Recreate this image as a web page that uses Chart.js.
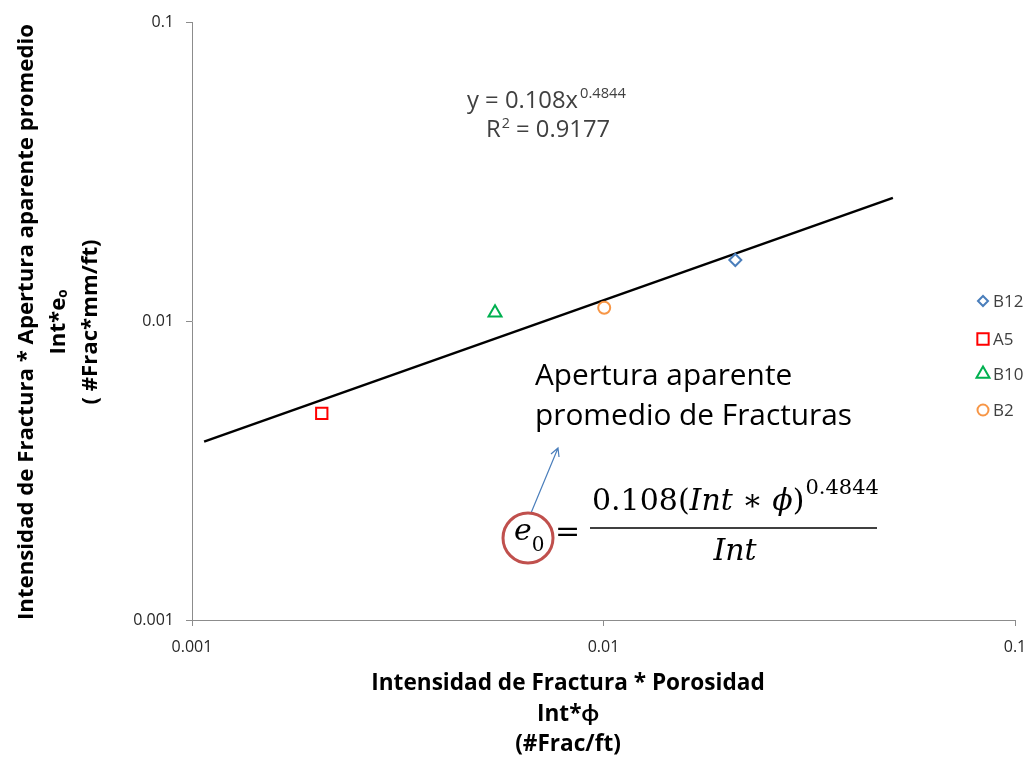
<!DOCTYPE html>
<html>
<head>
<meta charset="utf-8">
<script src="https://cdn.jsdelivr.net/npm/chart.js@4/dist/chart.umd.min.js"></script>
<style>
 body{margin:0;background:#fff;}
 #wrap{width:1029px;height:761px;}
</style>
</head>
<body>
<div id="wrap"><canvas id="c" width="1029" height="761"></canvas></div>
<script>
/* ----- DATA ----- */
const series=['B12','A5','B10','B2'];
const xVals=[0.02091,0.002067,0.00545,0.01004];
const yVals=[0.0160,0.004913,0.01066,0.01108];

// power trendline end points (y = 0.108x^0.4844)
const trendX=[0.00107,0.0505];
const trendY=[0.00395,0.0258];

const xTicks=[0.001,0.01,0.1];
const yTicks=[0.001,0.01,0.1];
const tickText={0.001:'0.001',0.01:'0.01',0.1:'0.1'};

/* ----- STYLE ----- */
const marks=[
 {style:'rectRot',r:6,lr:5,color:'#4a7ebb'},
 {style:'rect',r:8,lr:8,color:'#ff0000'},
 {style:'triangle',r:7.5,lr:7.5,color:'#00b050'},
 {style:'circle',r:6,lr:5.5,color:'#f79646'}
];
const SANS='"Open Sans", Lato, sans-serif';
const SERIF='"DejaVu Serif", "Liberation Serif", serif';

const sets=series.map((s,i)=>({
 label:s,
 data:[{x:xVals[i],y:yVals[i]}],
 pointStyle:marks[i].style,
 pointRadius:marks[i].r,
 borderColor:marks[i].color,
 backgroundColor:'rgba(0,0,0,0)',
 borderWidth:2
}));
sets.push({
 label:'trend',
 data:trendX.map((x,i)=>({x:x,y:trendY[i]})),
 showLine:true,
 pointRadius:0,
 borderColor:'#000',
 borderWidth:2.5
});

/* ----- HELPERS ----- */
// set a font whose width for txt is target px
function fit(ctx,txt,weight,target,fam){
 fam=fam||SANS;
 ctx.font=weight+' 20px '+fam;
 const s=20*target/ctx.measureText(txt).width;
 ctx.font=weight+' '+s.toFixed(1)+'px '+fam;
 return s;
}

function drawPt(ctx,style,r,x,y,color){
 ctx.save();
 ctx.strokeStyle=color;ctx.lineWidth=2;
 ctx.fillStyle='rgba(0,0,0,0)';
 if(Chart.helpers&&Chart.helpers.drawPoint)
  Chart.helpers.drawPoint(ctx,{pointStyle:style,radius:r,rotation:0,borderWidth:2},x,y);
 ctx.restore();
}

function pieces(ctx,list,x,base){
 list.forEach(p=>{
  ctx.font=p[1];
  ctx.fillText(p[0],x,base+(p[2]||0));
  x+=ctx.measureText(p[0]).width;
 });
 return x;
}

/* ----- ANNOTATIONS ----- */
const extras={
 id:'extras',
 afterDraw(ch){
  const ctx=ch.ctx;
  ctx.save();
  ctx.textBaseline='alphabetic';

  // x title
  ctx.fillStyle='#000';
  ctx.textAlign='center';
  let s=fit(ctx,'Intensidad de Fractura * Porosidad','bold',393);
  ctx.fillText('Intensidad de Fractura * Porosidad',568,690);
  ctx.fillText('Int*ϕ',568,721);
  ctx.fillText('(#Frac/ft)',568,751);

  // y title
  ctx.save();
  ctx.translate(33,322);
  ctx.rotate(-Math.PI/2);
  s=fit(ctx,'Intensidad de Fractura * Apertura aparente promedio','bold',595);
  const big=ctx.font;
  ctx.fillText('Intensidad de Fractura * Apertura aparente promedio',0,0);
  ctx.restore();

  ctx.save();
  ctx.translate(65,322);
  ctx.rotate(-Math.PI/2);
  ctx.textAlign='left';
  ctx.font=big;
  let w=ctx.measureText('Int*e').width;
  const small='bold '+(s*0.6).toFixed(1)+'px '+SANS;
  ctx.font=small;
  let sx=-(w+ctx.measureText('o').width)/2;
  ctx.font=big;
  ctx.fillText('Int*e',sx,0);
  ctx.font=small;
  ctx.fillText('o',sx+w,2);
  ctx.restore();

  ctx.save();
  ctx.translate(97,322);
  ctx.rotate(-Math.PI/2);
  ctx.font=big;
  ctx.fillText('( #Frac*mm/ft)',0,0);
  ctx.restore();

  // legend
  ctx.textAlign='left';
  const ly=[301,339,374,410];
  series.forEach((n,i)=>{
   drawPt(ctx,marks[i].style,marks[i].lr,983,ly[i],marks[i].color);
   ctx.fillStyle='#404040';
   ctx.font='17px '+SANS;
   ctx.fillText(n,993,ly[i]+6);
  });

  // trendline equation
  ctx.fillStyle='#404040';
  s=fit(ctx,'y = 0.108x','',111);
  ctx.fillText('y = 0.108x',467,108);
  fit(ctx,'0.4844','',46);
  ctx.fillText('0.4844',580,98);
  ctx.font=s.toFixed(1)+'px '+SANS;
  ctx.fillText('R',486,137);
  let rx=486+ctx.measureText('R').width;
  ctx.font=(s*0.6).toFixed(1)+'px '+SANS;
  ctx.fillText('2',rx+1,128);
  rx+=1+ctx.measureText('2').width;
  ctx.font=s.toFixed(1)+'px '+SANS;
  ctx.fillText(' = 0.9177',rx,137);

  // label
  ctx.fillStyle='#000';
  fit(ctx,'promedio de Fracturas','',317);
  ctx.fillText('Apertura aparente',535,385);
  ctx.fillText('promedio de Fracturas',535,425);

  // arrow
  ctx.strokeStyle='#4a7ebb';
  ctx.lineWidth=1.2;
  ctx.beginPath();
  ctx.moveTo(531,513);ctx.lineTo(558,448);
  ctx.moveTo(551,454);ctx.lineTo(558,448);ctx.lineTo(559,457);
  ctx.stroke();

  // formula
  ctx.fillStyle='#000';
  let fx=pieces(ctx,[
   ['0.108(','30px '+SERIF],
   ['Int','italic 30px '+SERIF],
   [' ∗ ','30px '+SERIF],
   ['ϕ','italic 30px '+SERIF],
   [')','30px '+SERIF]
  ],592,510);
  pieces(ctx,[['0.4844','21px '+SERIF]],fx+1,494);
  ctx.lineWidth=1.5;ctx.strokeStyle='#000';
  ctx.beginPath();ctx.moveTo(590,528);ctx.lineTo(877,528);ctx.stroke();
  ctx.textAlign='center';
  ctx.font='italic 30px '+SERIF;
  ctx.fillText('Int',735,560);
  ctx.textAlign='left';
  let e=pieces(ctx,[['e','italic 30px '+SERIF]],514,540);
  pieces(ctx,[['0','20px '+SERIF]],e,551);
  ctx.font='30px '+SERIF;
  ctx.fillText('=',555,541);

  // red circle
  ctx.strokeStyle='#c0504d';
  ctx.lineWidth=3;
  ctx.beginPath();ctx.arc(528,538,25,0,Math.PI*2);ctx.stroke();

  ctx.restore();
 }
};

/* ----- CHART ----- */
function axis(ticks,pos){
 return {
  type:'logarithmic',
  position:pos,
  min:ticks[0],
  max:ticks[ticks.length-1],
  afterBuildTicks(sc){sc.ticks=ticks.map(v=>({value:v}));},
  afterFit(sc){
   if(pos==='left'){sc.width=192;sc.paddingTop=0;sc.paddingBottom=0;}
   else{sc.height=141;sc.paddingLeft=0;sc.paddingRight=0;}
  },
  ticks:{
   autoSkip:false,
   maxRotation:0,
   color:'#262626',
   font:{family:SANS,size:16},
   padding:12,
   callback:v=>tickText[v]||''
  },
  grid:{drawOnChartArea:false,drawTicks:true,tickLength:6,color:'#8c8c8c'},
  border:{color:'#8c8c8c',width:1}
 };
}

new Chart(document.getElementById('c'),{
 type:'scatter',
 data:{datasets:sets},
 options:{
  responsive:false,
  animation:false,
  layout:{padding:{top:22,right:14,left:0,bottom:0}},
  plugins:{legend:{display:false},tooltip:{enabled:false}},
  scales:{x:axis(xTicks,'bottom'),y:axis(yTicks,'left')}
 },
 plugins:[extras]
});
</script>
</body>
</html>
